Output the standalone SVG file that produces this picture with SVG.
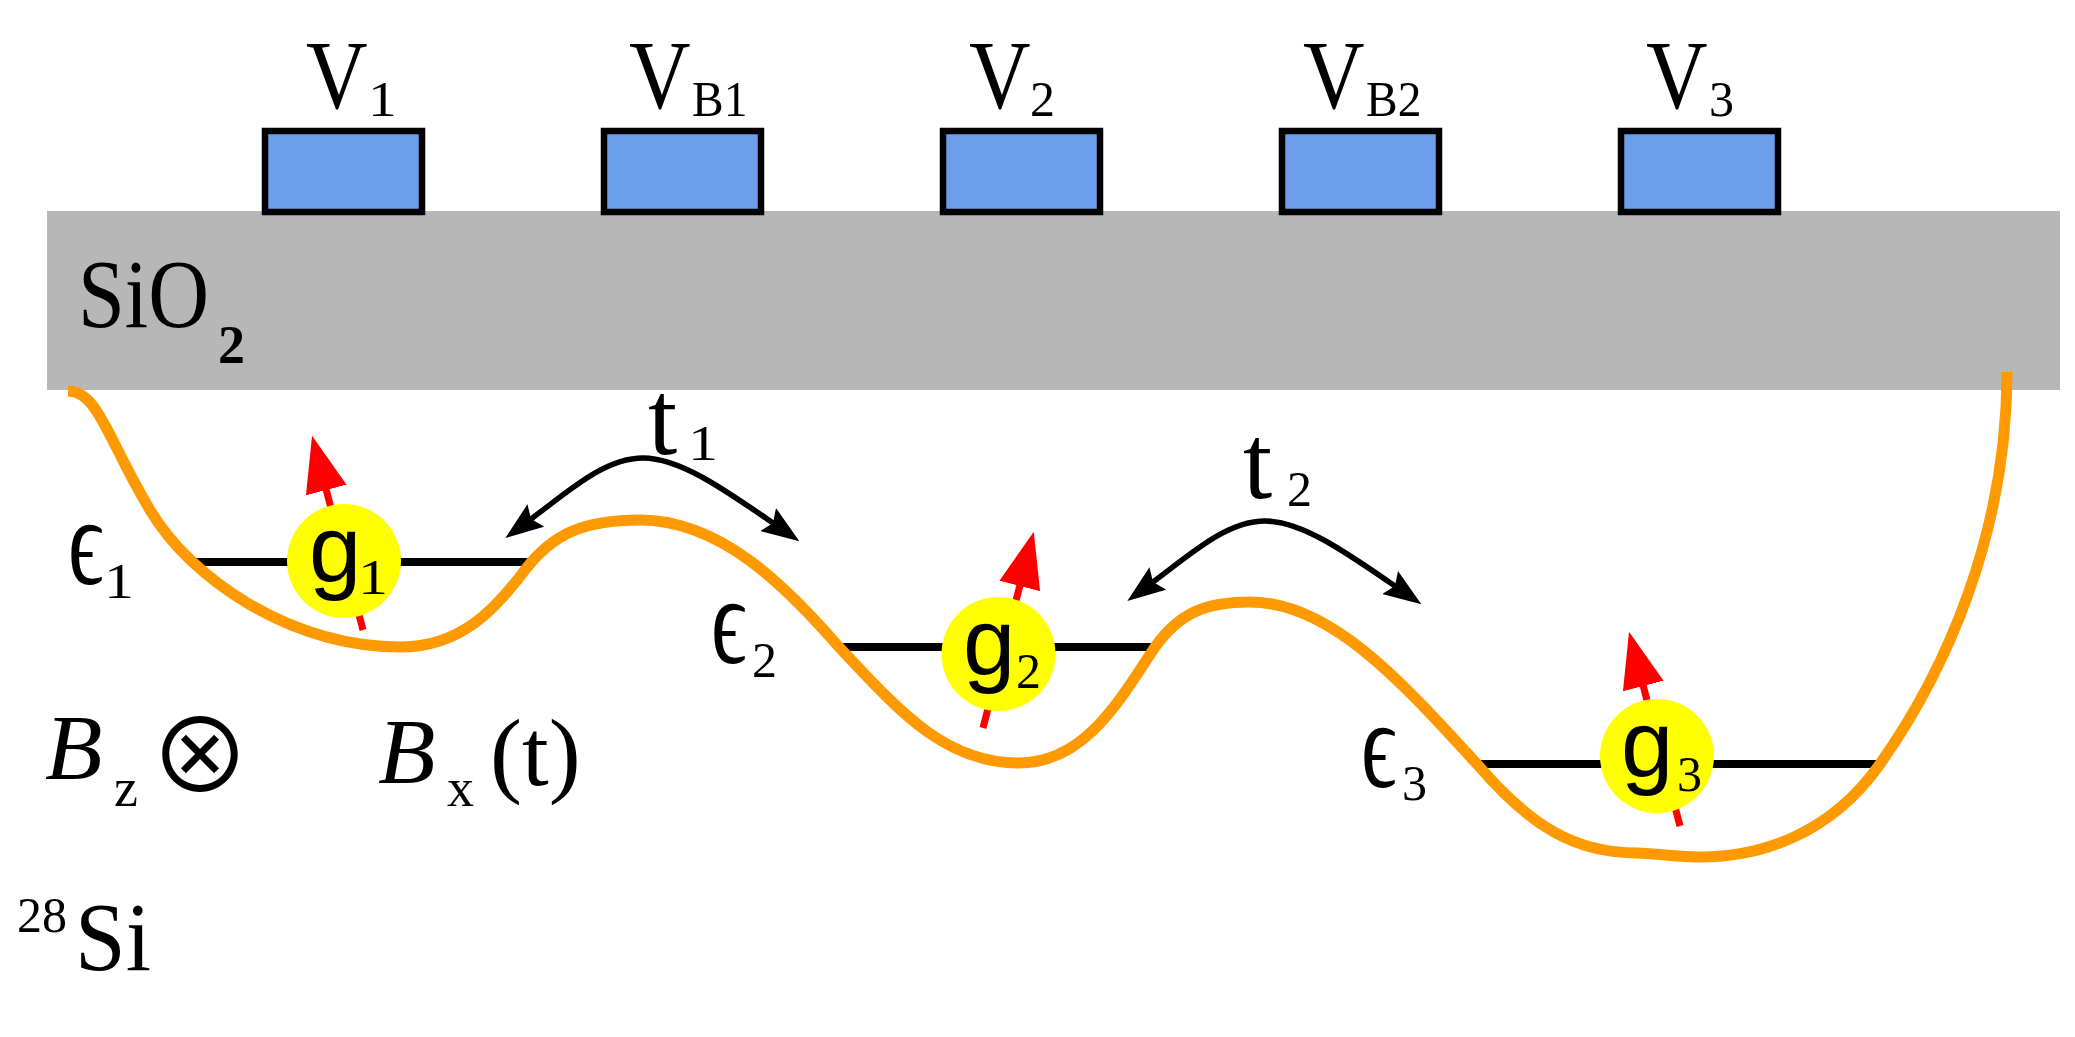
<svg xmlns="http://www.w3.org/2000/svg" width="2075" height="1037" viewBox="0 0 2075 1037">
<style>
text{fill:#000;font-family:"Liberation Serif","Times New Roman",serif}
.big{font-size:98px}
.eps{font-size:124px}
.it{font-size:94px;font-style:italic}
.sub{font-size:50px}
.low{font-size:54px}
.sans{font-family:"Liberation Sans",Arial,sans-serif;font-size:94px}
.gate{fill:#6d9eeb;stroke:#000;stroke-width:6.5}
.level{stroke:#000;stroke-width:8;fill:none}
.dot{fill:#ff0}
.spin{stroke:#f00;stroke-width:7;marker-end:url(#red)}
.hop{fill:none;stroke:#000;stroke-width:5.5;marker-start:url(#blk);marker-end:url(#blk)}
</style>
<defs>
<marker id="blk" markerUnits="userSpaceOnUse" viewBox="0 0 38 28" refX="6" refY="14" markerWidth="38" markerHeight="28" orient="auto-start-reverse"><path d="M0,0L38,14L0,28L6,14z" fill="#000"/></marker>
<marker id="red" markerUnits="userSpaceOnUse" viewBox="0 0 56 42" refX="1" refY="21" markerWidth="56" markerHeight="42" orient="auto"><path d="M0,0L56,21L0,42z" fill="#f00"/></marker>
</defs>
<rect width="2075" height="1037" fill="#fff"/>
<g id="oxide"><rect x="47" y="211" width="2013" height="179" fill="#b7b7b7"/>
<text class="big" transform="translate(78 327) scale(.86 1)">SiO</text><text x="218" y="363" font-size="54" font-weight="bold">2</text></g>
<g id="gate-v1"><rect class="gate" x="265" y="131" width="157" height="81"/><text class="big" transform="translate(306 108) scale(.87 1)">V</text><text class="sub" transform="translate(368 116) scale(1.15 1)">1</text></g>
<g id="gate-vb1"><rect class="gate" x="604" y="131" width="157" height="81"/><text class="big" transform="translate(629 108) scale(.87 1)">V</text><text class="sub" transform="translate(692 116) scale(.95 1)">B1</text></g>
<g id="gate-v2"><rect class="gate" x="943" y="131" width="157" height="81"/><text class="big" transform="translate(969 108) scale(.87 1)">V</text><text class="sub" x="1030" y="116">2</text></g>
<g id="gate-vb2"><rect class="gate" x="1282" y="131" width="157" height="81"/><text class="big" transform="translate(1303 108) scale(.87 1)">V</text><text class="sub" transform="translate(1366 116) scale(.95 1)">B2</text></g>
<g id="gate-v3"><rect class="gate" x="1621" y="131" width="157" height="81"/><text class="big" transform="translate(1646 108) scale(.87 1)">V</text><text class="sub" x="1709" y="116">3</text></g>
<g id="levels">
<line class="level" x1="192" y1="562" x2="532" y2="562"/>
<line class="level" x1="839" y1="647" x2="1155" y2="647"/>
<line class="level" x1="1477" y1="764" x2="1880" y2="764"/>
</g>
<g id="well"><path fill="none" stroke="#f90" stroke-width="11" d="M68,391C98,391 108,440 150,510C190,578 290,647 401,647C460,647 495,610 525,570C553,533 585,520 640,520C720,520 785,585 839,647C900,712 945,763 1019,763C1085,763 1120,700 1155,647C1180,612 1207,602 1250,602C1330,602 1400,680 1477,764C1530,826 1575,853 1637,853C1660,854 1680,857 1700,857C1760,857 1830,835 1880,764C1945,672 2007,535 2007,372"/></g>
<g id="connectors">
<path class="hop" d="M531,519C570,490 605,458 643,458C680,458 725,490 773,523"/>
<path class="hop" d="M1153,582C1192,553 1227,521 1265,521C1302,521 1347,553 1395,586"/>
</g>
<g id="spin-1"><line class="spin" x1="363" y1="630" x2="326" y2="489"/><circle class="dot" cx="344" cy="561" r="57"/><text class="sans" x="309" y="581">g</text><text class="sub" transform="translate(358 594) scale(1.2 1)">1</text></g>
<g id="spin-2"><line class="spin" x1="983" y1="728" x2="1020" y2="585"/><circle class="dot" cx="998.5" cy="654" r="57"/><text class="sans" x="963" y="674">g</text><text class="sub" x="1016" y="688">2</text></g>
<g id="spin-3"><line class="spin" x1="1680" y1="826" x2="1643" y2="685"/><circle class="dot" cx="1657" cy="756" r="57"/><text class="sans" x="1621" y="776">g</text><text class="sub" x="1677" y="791">3</text></g>
<g id="label-t1"><text x="648" y="454" font-size="105">t</text><text class="sub" transform="translate(688 460) scale(1.2 1)">1</text></g>
<g id="label-t2"><text x="1243" y="498" font-size="105">t</text><text class="sub" x="1287" y="506">2</text></g>
<g id="label-e1"><text class="eps" transform="translate(68 584) scale(.71 1)">ϵ</text><text class="sub" transform="translate(104 598) scale(1.2 1)">1</text></g>
<g id="label-e2"><text class="eps" transform="translate(711 663) scale(.71 1)">ϵ</text><text class="sub" x="752" y="677">2</text></g>
<g id="label-e3"><text class="eps" transform="translate(1361 787) scale(.71 1)">ϵ</text><text class="sub" x="1402" y="800">3</text></g>
<g id="label-bz"><text class="it" x="45" y="779">B</text><text class="low" x="114" y="806">z</text><text x="149" y="793" font-size="102" style="font-family:'Noto Sans CJK SC',sans-serif">⊗</text></g>
<g id="label-bx"><text class="it" x="378" y="783">B</text><text class="low" x="447" y="806">x</text><text x="490" y="785" font-size="96">(t)</text></g>
<g id="label-si"><text class="sub" x="17" y="932">28</text><text class="big" transform="translate(75 970) scale(.93 1)">Si</text></g>
</svg>
